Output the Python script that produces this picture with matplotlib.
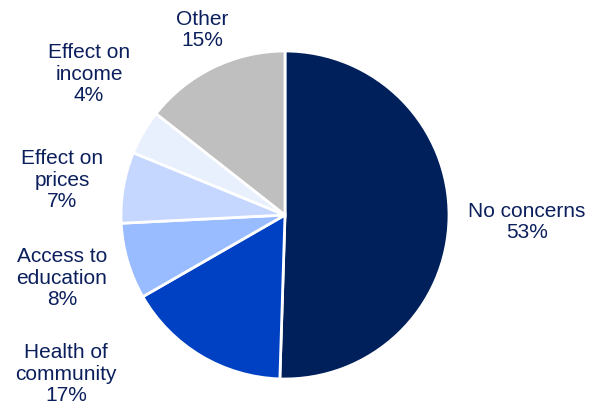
import matplotlib.pyplot as plt

labels = ['No concerns', 'Health of\ncommunity', 'Access to\neducation',
          'Effect on\nprices', 'Effect on\nincome', 'Other']
# slice shares as drawn in the picture
shares = [50.5, 16.2, 7.5, 7.0, 4.4, 14.4]
# percentages as printed on the labels
pct_text = ['53%', '17%', '8%', '7%', '4%', '15%']
colors = ['#00205B', '#0041C4', '#99BBFF', '#C5D6FF', '#E8EFFD', '#BFBFBF']

# label anchor points in pixel space (x from left, y from top)
label_xy = [(527, 222), (66, 374), (62, 278), (62, 180), (89, 74), (202, 30)]

plt.rcParams['font.family'] = ['Liberation Sans', 'DejaVu Sans']
W, H = 600, 408
fig = plt.figure(figsize=(W / 100, H / 100), dpi=100)
ax = fig.add_axes([0, 0, 1, 1])

ax.pie(shares, colors=colors, startangle=90, counterclock=False,
       center=(285, H - 215), radius=164,
       wedgeprops=dict(edgecolor='white', linewidth=2))

for lab, p, (x, y) in zip(labels, pct_text, label_xy):
    ax.text(x, H - y, f'{lab}\n{p}', ha='center', va='center',
            fontsize=15, color='#0B1F5C', linespacing=1.15)

ax.set_xlim(0, W)
ax.set_ylim(0, H)
ax.set_aspect('equal')
ax.axis('off')

fig.savefig('out.png', dpi=100)
